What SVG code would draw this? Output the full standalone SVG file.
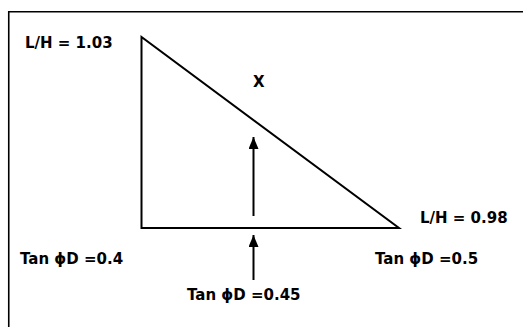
<svg xmlns="http://www.w3.org/2000/svg" width="523" height="327" viewBox="0 0 523 327">
<style>
.t{font-family:"DejaVu Sans",Verdana,sans-serif;font-weight:bold;font-size:15px;fill:#000}
.ln{fill:none;stroke:#000;stroke-width:2}
</style>
<defs>
<marker id="ah" viewBox="0 0 12 10" refX="12" refY="5" markerWidth="12" markerHeight="10" markerUnits="userSpaceOnUse" orient="auto">
<path d="M0,0 L12,5 L0,10 Z" fill="#000"/>
</marker>
</defs>
<rect width="523" height="327" fill="#fff"/>
<path d="M8.75,327 V11.75 H523" fill="none" stroke="#000" stroke-width="1.6"/>
<g id="triangle">
<path class="ln" d="M141.5,37 L141.5,228 L399,228 Z" stroke-linejoin="miter"/>
</g>
<g id="connectors">
<line x1="253.5" y1="216" x2="253.5" y2="137" stroke="#000" stroke-width="2" marker-end="url(#ah)"/>
<line x1="253.5" y1="280" x2="253.5" y2="235" stroke="#000" stroke-width="2" marker-end="url(#ah)"/>
</g>
<g id="label-top"><text class="t" x="25" y="48">L/H = 1.03</text></g>
<g id="label-x"><text class="t" x="253" y="87">X</text></g>
<g id="label-right"><text class="t" x="420" y="223">L/H = 0.98</text></g>
<g id="label-left-tan"><text class="t" x="20" y="264">Tan ϕD =0.4</text></g>
<g id="label-right-tan"><text class="t" x="375" y="264">Tan ϕD =0.5</text></g>
<g id="label-mid-tan"><text class="t" x="187" y="300">Tan ϕD =0.45</text></g>
</svg>
